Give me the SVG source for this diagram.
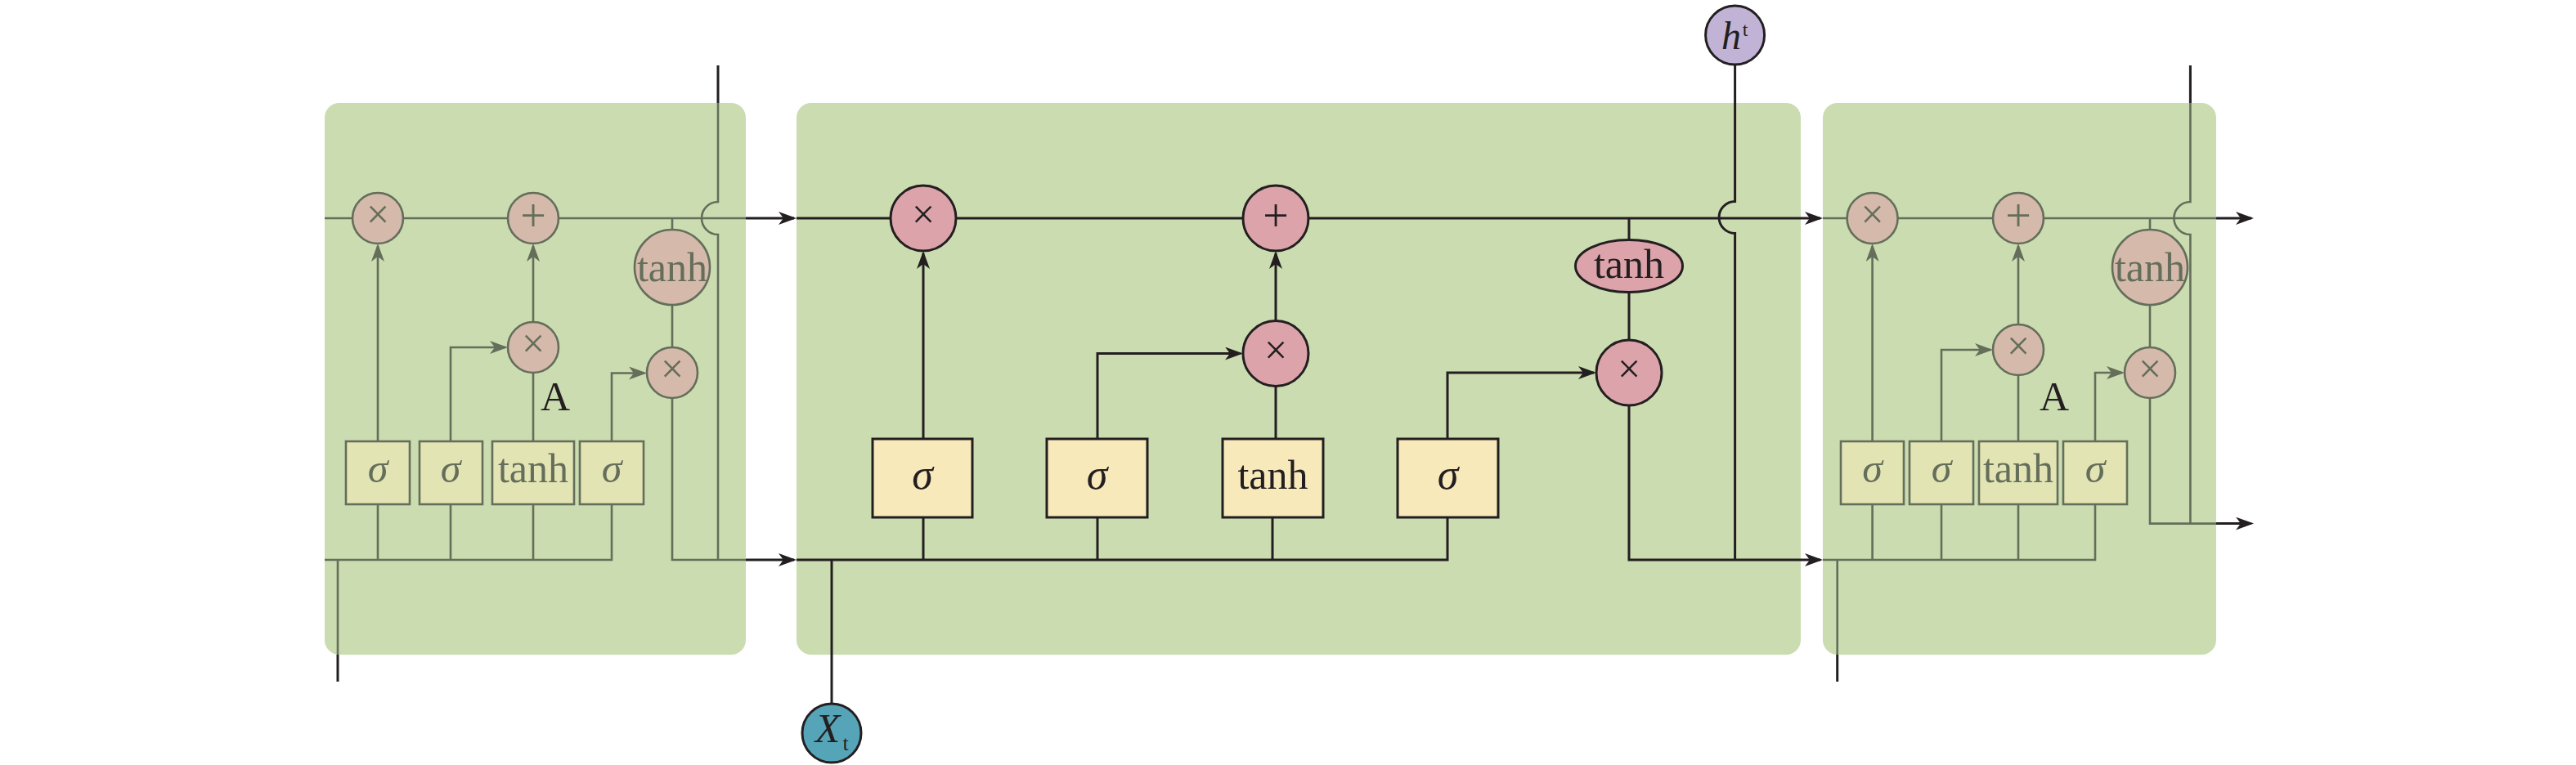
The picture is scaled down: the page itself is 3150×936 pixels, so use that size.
<svg xmlns="http://www.w3.org/2000/svg" width="3150" height="936" viewBox="0 0 3150 936">
<style>
.panel{fill:#cadcb0;}
.ln{fill:none;stroke:#231f20;stroke-width:3;}
.fl{fill:none;stroke:#646e5a;stroke-width:2.6;}
.op{fill:#dca3aa;stroke:#231f20;stroke-width:3;}
.fop{fill:#d5b9aa;stroke:#646e5a;stroke-width:2.6;}
.box{fill:#f8e9bb;stroke:#231f20;stroke-width:3;}
.fbox{fill:#e3e4b4;stroke:#646e5a;stroke-width:2.6;}
.t{font-family:"Liberation Serif","Times New Roman",serif;fill:#231f20;text-anchor:middle;}
.ft{font-family:"Liberation Serif","Times New Roman",serif;fill:#646e5a;text-anchor:middle;}
.it{font-style:italic;}
</style>
<defs>
<marker id="ab" markerUnits="userSpaceOnUse" markerWidth="22" markerHeight="16" viewBox="0 0 22 16" refX="19" refY="8" orient="auto"><path d="M0,0 L22,8 L0,16 L6,8 z" fill="#231f20"/></marker>
<marker id="ag" markerUnits="userSpaceOnUse" markerWidth="22" markerHeight="16" viewBox="0 0 22 16" refX="19" refY="8" orient="auto"><path d="M0,0 L22,8 L0,16 L6,8 z" fill="#646e5a"/></marker>
</defs>

<!-- panels -->
<rect id="cell-prev" class="panel" x="397" y="126" width="515" height="675" rx="18"/>
<rect id="cell-main" class="panel" x="974" y="126" width="1228" height="675" rx="18"/>
<rect id="cell-next" class="panel" x="2229" y="126" width="481" height="675" rx="18"/>

<g id="connectors">
<!-- previous cell (faded) -->
<path class="fl" d="M397,267 H912"/>
<path class="fl" d="M397,685 H748 V617"/>
<path class="fl" d="M462,617 V685 M551,617 V685 M652,617 V685"/>
<path class="fl" d="M462,540 V301" marker-end="url(#ag)"/>
<path class="fl" d="M551,540 V425 H618" marker-end="url(#ag)"/>
<path class="fl" d="M652,540 V456"/>
<path class="fl" d="M652,394 V301" marker-end="url(#ag)"/>
<path class="fl" d="M748,540 V456.5 H788" marker-end="url(#ag)"/>
<path class="fl" d="M822,267 V281 M822,373 V425"/>
<path class="fl" d="M822,487 V685 H912"/>
<path class="ln" d="M878,80 V126"/>
<path class="fl" d="M878,126 V247 A20,20 0 0,0 878,287 V685"/>
<path class="fl" d="M413,685 V801"/>
<path class="ln" d="M413,801 V834"/>
<!-- main cell -->
<path class="ln" d="M912,267 H971" marker-end="url(#ab)"/>
<path class="ln" d="M974,267 H2226" marker-end="url(#ab)"/>
<path class="ln" d="M912,685 H971" marker-end="url(#ab)"/>
<path class="ln" d="M974,685 H1770 V633"/>
<path class="ln" d="M1129,633 V685 M1342,633 V685 M1556,633 V685"/>
<path class="ln" d="M1129,537 V310" marker-end="url(#ab)"/>
<path class="ln" d="M1342,537 V432.5 H1517" marker-end="url(#ab)"/>
<path class="ln" d="M1560,537 V472"/>
<path class="ln" d="M1560,393 V310" marker-end="url(#ab)"/>
<path class="ln" d="M1770,537 V456 H1949" marker-end="url(#ab)"/>
<path class="ln" d="M1992,267 V294 M1992,357 V416"/>
<path class="ln" d="M1992,496 V685 H2226" marker-end="url(#ab)"/>
<path class="ln" d="M2121.6,79 V246.5 A19.5,19.5 0 0,0 2121.6,285.5 V685"/>
<path class="ln" d="M1017,685 V861"/>
<!-- next cell (faded) -->
<path class="fl" d="M2229,267 H2710"/>
<path class="ln" d="M2710,267 H2753" marker-end="url(#ab)"/>
<path class="fl" d="M2229,685 H2562 V617"/>
<path class="fl" d="M2289.6,617 V685 M2374,617 V685 M2468,617 V685"/>
<path class="fl" d="M2289.6,540 V301" marker-end="url(#ag)"/>
<path class="fl" d="M2374,540 V428 H2434" marker-end="url(#ag)"/>
<path class="fl" d="M2468,540 V459"/>
<path class="fl" d="M2468,397 V301" marker-end="url(#ag)"/>
<path class="fl" d="M2562,540 V456 H2595" marker-end="url(#ag)"/>
<path class="fl" d="M2629,267 V281 M2629,373 V425"/>
<path class="fl" d="M2629,487 V640.6 H2710"/>
<path class="ln" d="M2710,640.6 H2753" marker-end="url(#ab)"/>
<path class="ln" d="M2678.4,80 V126"/>
<path class="fl" d="M2678.4,126 V247 A20,20 0 0,0 2678.4,287 V640.6"/>
<path class="fl" d="M2246.7,685 V801"/>
<path class="ln" d="M2246.7,801 V834"/>
</g>

<!-- previous cell nodes -->
<g id="p-forget"><circle class="fop" cx="462" cy="267" r="31"/><text class="ft" x="462" y="279" font-size="50">×</text></g>
<g id="p-add"><circle class="fop" cx="652" cy="267" r="31"/><text class="ft" x="652" y="283" font-size="56">+</text></g>
<g id="p-mul-in"><circle class="fop" cx="652" cy="425" r="31"/><text class="ft" x="652" y="437" font-size="50">×</text></g>
<g id="p-tanh-c"><circle class="fop" cx="822" cy="327" r="46"/><text class="ft" x="822" y="344" font-size="50">tanh</text></g>
<g id="p-mul-out"><circle class="fop" cx="822" cy="456" r="31"/><text class="ft" x="822" y="468" font-size="50">×</text></g>
<g id="p-sig1"><rect class="fbox" x="423" y="540" width="78" height="77"/><text class="ft it" x="462" y="590" font-size="50">σ</text></g>
<g id="p-sig2"><rect class="fbox" x="513" y="540" width="77" height="77"/><text class="ft it" x="551" y="590" font-size="50">σ</text></g>
<g id="p-tanh"><rect class="fbox" x="602" y="540" width="100" height="77"/><text class="ft" x="652" y="590" font-size="50">tanh</text></g>
<g id="p-sig3"><rect class="fbox" x="709" y="540" width="78" height="77"/><text class="ft it" x="748" y="590" font-size="50">σ</text></g>
<g id="p-label"><text class="t" x="679" y="502" font-size="50">A</text></g>

<!-- main cell nodes -->
<g id="m-forget"><circle class="op" cx="1129" cy="267" r="40"/><text class="t" x="1129" y="279" font-size="50">×</text></g>
<g id="m-add"><circle class="op" cx="1560" cy="267" r="40"/><text class="t" x="1560" y="283" font-size="56">+</text></g>
<g id="m-mul-in"><circle class="op" cx="1560" cy="432.5" r="40"/><text class="t" x="1560" y="444.5" font-size="50">×</text></g>
<g id="m-tanh-c"><ellipse class="op" cx="1992" cy="325.5" rx="65.5" ry="32"/><text class="t" x="1992" y="340" font-size="50">tanh</text></g>
<g id="m-mul-out"><circle class="op" cx="1992" cy="456" r="40"/><text class="t" x="1992" y="468" font-size="50">×</text></g>
<g id="m-sig1"><rect class="box" x="1067" y="537" width="122" height="96"/><text class="t it" x="1128" y="598" font-size="52">σ</text></g>
<g id="m-sig2"><rect class="box" x="1280" y="537" width="123" height="96"/><text class="t it" x="1341.5" y="598" font-size="52">σ</text></g>
<g id="m-tanh"><rect class="box" x="1495" y="537" width="123" height="96"/><text class="t" x="1556.5" y="598" font-size="50">tanh</text></g>
<g id="m-sig3"><rect class="box" x="1709" y="537" width="123" height="96"/><text class="t it" x="1770.5" y="598" font-size="52">σ</text></g>
<g id="h-out"><circle cx="2121.6" cy="43" r="36" fill="#c1b3d6" stroke="#231f20" stroke-width="3"/><text class="t it" x="2117" y="60" font-size="48">h</text><text class="t" x="2134" y="44" font-size="24">t</text></g>
<g id="x-in"><circle cx="1017" cy="897" r="36" fill="#56a4b7" stroke="#231f20" stroke-width="3"/><text class="t it" x="1012" y="908" font-size="50">X</text><text class="t" x="1034" y="918" font-size="26">t</text></g>

<!-- next cell nodes -->
<g id="n-forget"><circle class="fop" cx="2289.6" cy="267" r="31"/><text class="ft" x="2289.6" y="279" font-size="50">×</text></g>
<g id="n-add"><circle class="fop" cx="2468" cy="267" r="31"/><text class="ft" x="2468" y="283" font-size="56">+</text></g>
<g id="n-mul-in"><circle class="fop" cx="2468" cy="428" r="31"/><text class="ft" x="2468" y="440" font-size="50">×</text></g>
<g id="n-tanh-c"><circle class="fop" cx="2629" cy="327" r="46"/><text class="ft" x="2629" y="344" font-size="50">tanh</text></g>
<g id="n-mul-out"><circle class="fop" cx="2629" cy="456" r="31"/><text class="ft" x="2629" y="468" font-size="50">×</text></g>
<g id="n-sig1"><rect class="fbox" x="2251" y="540" width="77" height="77"/><text class="ft it" x="2289.6" y="590" font-size="50">σ</text></g>
<g id="n-sig2"><rect class="fbox" x="2335" y="540" width="78" height="77"/><text class="ft it" x="2374" y="590" font-size="50">σ</text></g>
<g id="n-tanh"><rect class="fbox" x="2420" y="540" width="96" height="77"/><text class="ft" x="2468" y="590" font-size="50">tanh</text></g>
<g id="n-sig3"><rect class="fbox" x="2523" y="540" width="78" height="77"/><text class="ft it" x="2562" y="590" font-size="50">σ</text></g>
<g id="n-label"><text class="t" x="2512" y="502" font-size="50">A</text></g>
</svg>
